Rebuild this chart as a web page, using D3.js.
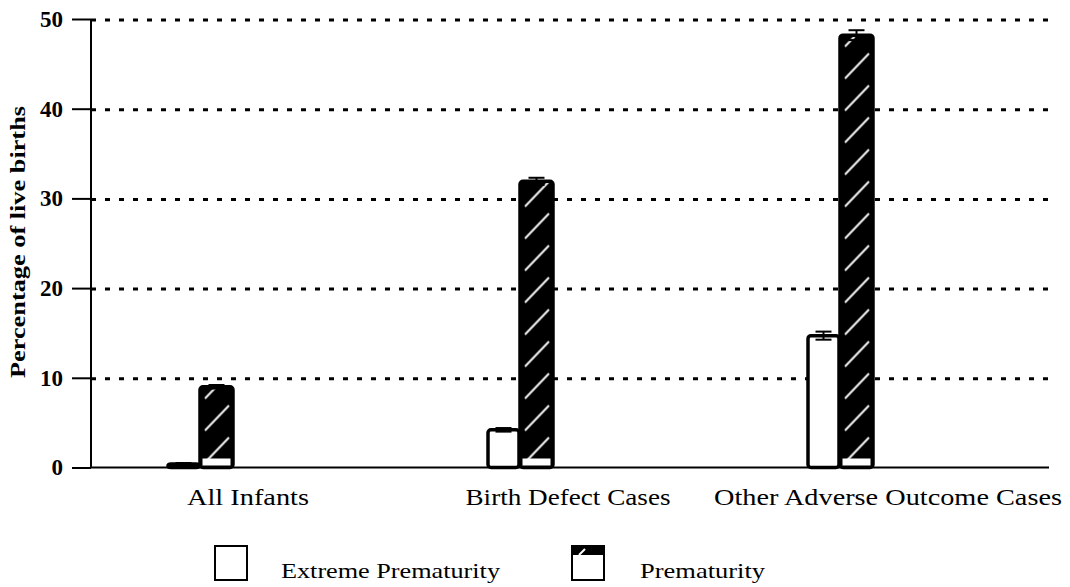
<!DOCTYPE html>
<html>
<head>
<meta charset="utf-8">
<script src="https://cdn.jsdelivr.net/npm/d3@7"></script>
<style>
  body { margin: 0; background: #fff; }
  text { font-family: "Liberation Serif", "DejaVu Serif", serif; fill: #000; }
</style>
</head>
<body>
<div id="chart"></div>
<script>
// chart data
const categories = ["All Infants", "Birth Defect Cases", "Other Adverse Outcome Cases"];
const seriesNames = ["Extreme Prematurity", "Prematurity"];
const extremeValues = [0.4, 4.2, 14.7];
const extremeErrors = [0.1, 0.2, 0.45];
const prematurityValues = [9.0, 31.9, 48.2];
const prematurityErrors = [0.2, 0.4, 0.55];
const yTicks = [0, 10, 20, 30, 40, 50];
const yTitle = "Percentage of live births";

const W = 1070, H = 587;
const svg = d3.select("#chart").append("svg").attr("width", W).attr("height", H);

// y scale: 0 at 467.5, 50 at 19
const y = d3.scaleLinear().domain([0, 50]).range([467.5, 19]);
// one band per category; the bar pair sits left of the band centre
const x0 = d3.scaleBand().domain(categories).range([90, 1050]).paddingInner(0).paddingOuter(0);
const groupOff = 110;

// gridlines
svg.append("g").selectAll("line").data(yTicks.filter(d => d > 0)).enter().append("line")
  .attr("x1", 91).attr("x2", 1049)
  .attr("y1", d => y(d) + 1).attr("y2", d => y(d) + 1)
  .attr("stroke", "#000").attr("stroke-width", 3).attr("stroke-dasharray", "5,9");

// axes
const yAxis = d3.axisLeft(y).tickValues(yTicks).tickSize(19).tickPadding(9).tickFormat(d3.format("d"));
const gy = svg.append("g").attr("transform", "translate(91,0)").call(yAxis);
gy.select(".domain").attr("stroke-width", 2).attr("d", "M0," + y(0) + "V" + y(50));
gy.selectAll(".tick line").attr("stroke-width", 2);
gy.selectAll(".tick text").attr("font-size", 23).attr("font-weight", "bold")
  .attr("font-family", "'Liberation Serif', serif").attr("fill", "#000");

svg.append("line").attr("x1", 90).attr("x2", 1049).attr("y1", y(0)).attr("y2", y(0))
  .attr("stroke", "#000").attr("stroke-width", 2);

// y title
svg.append("text")
  .attr("transform", "translate(25," + 242 + ") rotate(-90)")
  .attr("text-anchor", "middle")
  .attr("font-size", 20).attr("font-weight", "bold")
  .attr("textLength", 272).attr("lengthAdjust", "spacingAndGlyphs")
  .text(yTitle);

// category labels
const labelWidths = [122, 205, 348];
svg.append("g").selectAll("text").data(categories).enter().append("text")
  .attr("x", d => x0(d) + 158)
  .attr("y", 505)
  .attr("text-anchor", "middle")
  .attr("font-size", 23)
  .attr("textLength", (d, i) => labelWidths[i]).attr("lengthAdjust", "spacingAndGlyphs")
  .text(d => d);

const defs = svg.append("defs");
const barW = 33;
function groupX(c) { return x0(c) + groupOff; }

// hatch pattern per bar
function makeHatch(id, px, py) {
  const p = defs.append("pattern").attr("id", id).attr("patternUnits", "userSpaceOnUse")
    .attr("x", px).attr("y", py).attr("width", barW).attr("height", 32);
  p.append("rect").attr("width", barW).attr("height", 32).attr("fill", "#000");
  p.append("line").attr("x1", 5).attr("y1", 29).attr("x2", 29).attr("y2", 4)
    .attr("stroke", "#fff").attr("stroke-width", 2.2).attr("opacity", 0.9);
}

const groups = svg.append("g").selectAll("g").data(categories).enter().append("g");

// extreme prematurity bars (white)
groups.append("rect")
  .attr("x", (d, i) => groupX(d) - barW + 1)
  .attr("y", (d, i) => y(extremeValues[i]))
  .attr("width", barW - 2)
  .attr("height", (d, i) => y(0) - y(extremeValues[i]))
  .attr("rx", 3)
  .attr("fill", "#fff").attr("stroke", "#000").attr("stroke-width", 3.5);

// prematurity bars (black with white hatch)
groups.each(function (d, i) {
  const gx = groupX(d);
  const top = y(prematurityValues[i]);
  makeHatch("hatch" + i, gx, y(0) - 2);
  const g = d3.select(this);
  g.append("rect")
    .attr("x", gx).attr("y", top)
    .attr("width", barW).attr("height", y(0) - top)
    .attr("rx", 3)
    .attr("fill", "url(#hatch" + i + ")").attr("stroke", "#000").attr("stroke-width", 3.5);
  g.append("rect")
    .attr("x", gx + 2.5).attr("y", y(0) - 9)
    .attr("width", barW - 5).attr("height", 7)
    .attr("fill", "#fff");
});

// error bars
function errBars(vals, errs, xOff) {
  groups.each(function (d, i) {
    const cx = groupX(d) + xOff;
    const g = d3.select(this);
    const lo = y(vals[i] - errs[i]), hi = y(vals[i] + errs[i]);
    g.append("line").attr("x1", cx).attr("x2", cx).attr("y1", lo).attr("y2", hi)
      .attr("stroke", "#000").attr("stroke-width", 2);
    [lo, hi].forEach(v => g.append("line").attr("x1", cx - 8).attr("x2", cx + 8)
      .attr("y1", v).attr("y2", v).attr("stroke", "#000").attr("stroke-width", 2));
  });
}
errBars(extremeValues, extremeErrors, -barW / 2);
errBars(prematurityValues, prematurityErrors, barW / 2);

// legend
const legendX = [215, 572];
const legendTextX = [281, 640];
const legendTextW = [219, 125];
const lg = svg.append("g");
seriesNames.forEach((s, i) => {
  lg.append("rect").attr("x", legendX[i]).attr("y", 546).attr("width", 32).attr("height", 34)
    .attr("fill", "#fff").attr("stroke", "#000").attr("stroke-width", 2);
  if (i === 1) {
    lg.append("rect").attr("x", legendX[i]).attr("y", 546).attr("width", 32).attr("height", 9).attr("fill", "#000");
    lg.append("line").attr("x1", legendX[i] + 7).attr("y1", 555).attr("x2", legendX[i] + 13).attr("y2", 549)
      .attr("stroke", "#fff").attr("stroke-width", 2);
  }
  lg.append("text").attr("x", legendTextX[i]).attr("y", 578)
    .attr("font-size", 22)
    .attr("textLength", legendTextW[i]).attr("lengthAdjust", "spacingAndGlyphs")
    .text(s);
});
</script>
</body>
</html>
